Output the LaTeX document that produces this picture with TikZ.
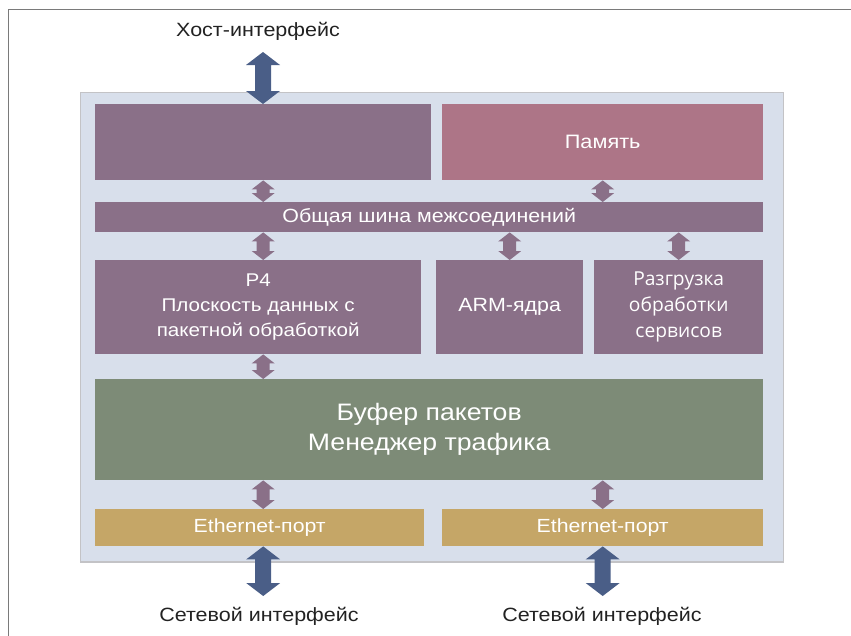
\documentclass[tikz,border=0pt]{standalone}
\usepackage{fontspec}
\setmainfont{Liberation Sans}[FakeStretch=1.12]
\newfontfamily\offloadfont{Open Sans}
\usetikzlibrary{calc}

\definecolor{framegray}{HTML}{7A7A7A}
\definecolor{panelfill}{HTML}{D8DFEB}
\definecolor{panelline}{HTML}{C3C3C6}
\definecolor{plum}{HTML}{8A7088}
\definecolor{rose}{HTML}{AD7587}
\definecolor{sage}{HTML}{7D8B77}
\definecolor{sand}{HTML}{C5A667}
\definecolor{steel}{HTML}{4A5E87}
\definecolor{ink}{HTML}{222222}

% vertical two-headed block arrow between two points that share an x
% #1 colour, #2 half head width, #3 half shaft width, #4 head length, #5 top, #6 bottom
\newcommand\linkarrow[6]{%
  \fill[#1] let \p1=#5, \p2=#6 in
    (\x1,\y1) -- (\x1+#2pt,\y1-#4pt) -- (\x1+#3pt,\y1-#4pt) --
    (\x1+#3pt,\y2+#4pt) -- (\x1+#2pt,\y2+#4pt) -- (\x1,\y2) --
    (\x1-#2pt,\y2+#4pt) -- (\x1-#3pt,\y2+#4pt) --
    (\x1-#3pt,\y1-#4pt) -- (\x1-#2pt,\y1-#4pt) -- cycle;}
\newcommand\busarrow[2]{\linkarrow{plum}{11.5}{6.5}{9}{#1}{#2}}
\newcommand\ioarrow[2]{\linkarrow{steel}{17}{8}{13}{#1}{#2}}

\begin{document}
\begin{tikzpicture}[x=1pt,y=-1pt,
  block/.style={rectangle, draw=none, inner sep=0pt, anchor=north west,
    text=white, align=center},
  extlabel/.style={inner sep=0pt, text=ink, font=\fontsize{19.2}{23}\selectfont}]

\useasboundingbox (0,0) rectangle (851,635);

% page frame
\draw[framegray, line width=1pt] (8,640) -- (8,9.5) -- (856,9.5);

% chip panel
\node[rectangle, draw=panelline, fill=panelfill, line width=1.5pt,
  anchor=north west, minimum width=703pt, minimum height=469.5pt, inner sep=0pt]
  (chip) at (79.5,91.5) {};

% functional blocks
\node[block, fill=plum, minimum width=336pt, minimum height=76pt] (ctrl) at (95,104) {};
\node[block, fill=rose, minimum width=321pt, minimum height=76pt,
  font=\fontsize{19.4}{22}\selectfont] (mem) at (442,104) {Память};
\node[block, fill=plum, minimum width=668pt, minimum height=30pt,
  font=\fontsize{19.1}{20}\selectfont] (bus) at (95,202) {Общая шина межсоединений};
\node[block, fill=plum, minimum width=326pt, minimum height=94pt,
  font=\fontsize{18.4}{25}\selectfont] (p4) at (95,260)
  {P4\\Плоскость данных с\\пакетной обработкой};
\node[block, fill=plum, minimum width=147pt, minimum height=94pt,
  font=\fontsize{19.1}{25}\selectfont] (arm) at (436,260) {ARM-ядра};
\node[block, fill=plum, minimum width=169pt, minimum height=94pt,
  font=\offloadfont\fontsize{19.2}{25.8}\selectfont] (offl) at (594,260)
  {Разгрузка\\обработки\\сервисов};
\node[block, fill=sage, minimum width=668pt, minimum height=101pt,
  font=\fontsize{23.8}{30}\selectfont] (tm) at (95,379)
  {Буфер пакетов\\Менеджер трафика};
\node[block, fill=sand, minimum width=329pt, minimum height=37pt,
  font=\fontsize{19}{20}\selectfont] (eth1) at (95,509) {Ethernet-порт};
\node[block, fill=sand, minimum width=321pt, minimum height=37pt,
  font=\fontsize{19}{20}\selectfont] (eth2) at (442,509) {Ethernet-порт};

% external interfaces
\node[extlabel] (host) at (258,31) {Хост-интерфейс};
\node[extlabel] (net1) at (259,616) {Сетевой интерфейс};
\node[extlabel] (net2) at (602,616) {Сетевой интерфейс};
\coordinate (hosttip) at (263,52);
\coordinate (net1tip) at (263,596);
\coordinate (net2tip) at (602,596);

% internal links
\busarrow{(ctrl.south)}{(bus.north -| ctrl.south)}
\busarrow{(mem.south)}{(bus.north -| mem.south)}
\busarrow{(bus.south -| ctrl.south)}{(p4.north -| ctrl.south)}
\busarrow{(bus.south -| arm.north)}{(arm.north)}
\busarrow{(bus.south -| offl.north)}{(offl.north)}
\busarrow{(p4.south -| ctrl.south)}{(tm.north -| ctrl.south)}
\busarrow{(tm.south -| ctrl.south)}{(eth1.north -| ctrl.south)}
\busarrow{(tm.south -| mem.south)}{(eth2.north -| mem.south)}

% host and network links
\ioarrow{(hosttip)}{(ctrl.north)}
\ioarrow{(eth1.south -| ctrl.south)}{(net1tip)}
\ioarrow{(eth2.south -| mem.south)}{(net2tip)}

\end{tikzpicture}
\end{document}
